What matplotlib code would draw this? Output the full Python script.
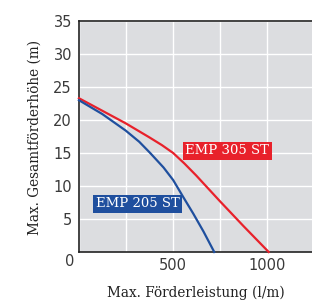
import matplotlib
matplotlib.use("Agg")
import matplotlib.pyplot as plt

# Data
emp305_flow = [0, 124, 248, 372, 440, 500, 560, 622, 748, 874, 1007]
emp305_head = [23.3, 21.4, 19.5, 17.4, 16.2, 15.0, 13.4, 11.6, 7.7, 3.9, 0.0]
emp205_flow = [0, 124, 248, 320, 378, 449, 500, 554, 607, 661, 718]
emp205_head = [23.0, 20.9, 18.4, 16.7, 15.0, 12.8, 10.9, 8.3, 5.8, 3.1, 0.0]
y_ticks = [5, 10, 15, 20, 25, 30, 35]
x_ticks = [500, 1000]
label_305 = "EMP 305 ST"
label_205 = "EMP 205 ST"

red = "#e8212b"
blue = "#1f4f9e"

fig = plt.figure(figsize=(3.12, 3.0), dpi=100)
ax = fig.add_axes([0.253, 0.16, 0.755, 0.77])
ax.set_facecolor("#dcdde0")
ax.set_xlim(0, 1250)
ax.set_ylim(0, 35)

grid_x = [0, 250, 500, 750, 1000, 1250]
ax.set_xticks(grid_x)
ax.set_xticklabels([str(v) if v in x_ticks else "" for v in grid_x])
ax.set_yticks([0] + y_ticks)
ax.set_yticklabels([""] + [str(v) for v in y_ticks])
ax.grid(True, color="white", linewidth=1.0)
ax.set_axisbelow(True)
ax.tick_params(length=0, labelsize=10.5, labelcolor="#3a3a3a")
ax.tick_params(axis="y", pad=5)
ax.tick_params(axis="x", pad=4)

for s in ["left", "bottom", "top"]:
    ax.spines[s].set_color("#222222")
    ax.spines[s].set_linewidth(1.2)
ax.spines["right"].set_visible(False)

ax.plot(emp305_flow, emp305_head, color=red, linewidth=1.6, clip_on=False, zorder=3)
ax.plot(emp205_flow, emp205_head, color=blue, linewidth=1.6, clip_on=False, zorder=3)

ax.text(565, 15.35, label_305, color="white", fontsize=9.5, family="DejaVu Serif",
        va="center", ha="left", zorder=5,
        bbox=dict(boxstyle="square,pad=0.18", fc=red, ec="none"))
ax.text(88, 7.3, label_205, color="white", fontsize=9.5, family="DejaVu Serif",
        va="center", ha="left", zorder=5,
        bbox=dict(boxstyle="square,pad=0.18", fc=blue, ec="none"))

fig.text(70 / 312, 1 - 262 / 300, "0", fontsize=10.5, color="#3a3a3a",
         ha="center", va="center")

fig.text(196 / 312, 1 - 293 / 300, "Max. Förderleistung (l/m)", fontsize=9.8,
         color="#222222", ha="center", va="center", family="DejaVu Serif")
fig.text(35 / 312, 1 - 137.5 / 300, "Max. Gesamtförderhöhe (m)", fontsize=9.8,
         color="#222222", ha="center", va="center", rotation=90, family="DejaVu Serif")

fig.savefig("out.png", dpi=100)
